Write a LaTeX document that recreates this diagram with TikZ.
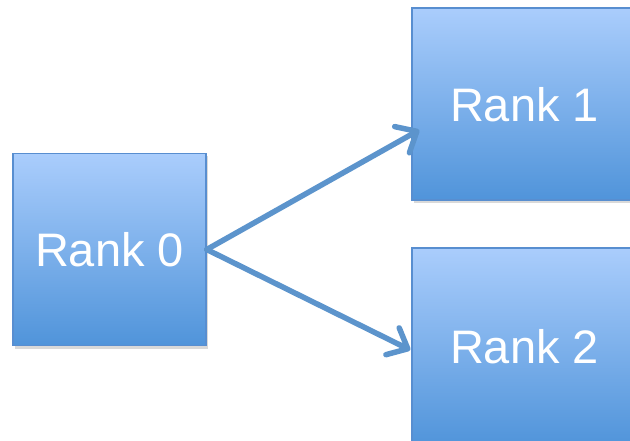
\documentclass[tikz,border=0pt]{standalone}
\usepackage{fontspec}
\setmainfont{Liberation Sans}
\usetikzlibrary{arrows.meta,shadows,positioning}
\definecolor{boxtop}{RGB}{170,205,252}
\definecolor{boxbot}{RGB}{80,148,218}
\definecolor{boxline}{RGB}{88,142,208}
\definecolor{arrowblue}{RGB}{92,148,204}
\tikzset{
    rankbox/.style={draw=boxline,line width=1.5pt,top color=boxtop,bottom color=boxbot,
        minimum height=192pt,text=white,inner sep=0pt,
        font=\fontsize{47}{56}\selectfont,
        drop shadow={shadow xshift=2pt,shadow yshift=-3pt,opacity=0.3}},
    sendarrow/.style={draw=arrowblue,line width=5.5pt,line cap=round,
        -{Straight Barb[length=17pt,width=30pt,line cap=round,line join=round]}}
}

\begin{document}
\begin{tikzpicture}[x=1pt,y=-1pt]
    \useasboundingbox (0,0) rectangle (630,441);
    \clip (0,0) rectangle (630,441);

    % Ranks
    \node[rankbox,minimum width=193pt] (rank0) at (109.5,249.5) {Rank 0};
    \node[rankbox,minimum width=225pt,text depth=-3pt] (rank1) at (524.5,104) {Rank 1};
    \node[rankbox,minimum width=225pt,minimum height=198pt] (rank2) at (524.5,347) {Rank 2};

    % Arrow tips
    \coordinate (tip1) at ([xshift=8pt,yshift=-26pt]rank1.west);
    \coordinate (tip2) at ([xshift=-1pt,yshift=-3pt]rank2.west);

    % Sends
    \draw[sendarrow] (rank0.east) -- (tip1);
    \draw[sendarrow] (rank0.east) -- (tip2);
\end{tikzpicture}
\end{document}
